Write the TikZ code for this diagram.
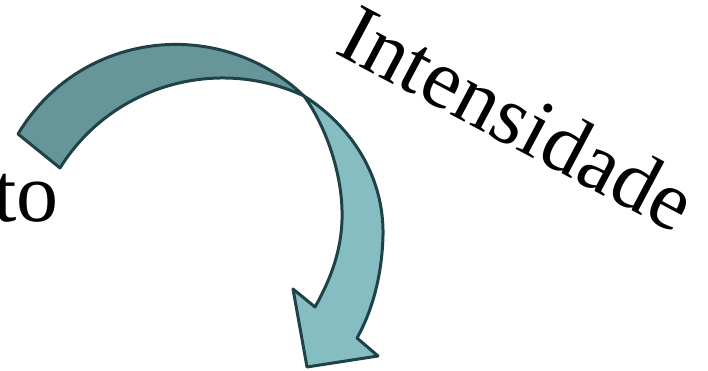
\documentclass[tikz,border=0pt]{standalone}
\usepackage{fontspec}
\setmainfont{Liberation Serif}
\usepackage{tikz}
\definecolor{petrol}{HTML}{1E4246}
\definecolor{petrold}{HTML}{67969A}
\definecolor{petroll}{HTML}{85BDC2}
\tikzset{
  band/.style={draw=petrol,line width=3pt,line join=round},
  wort/.style={inner sep=0pt,font=\fontsize{84}{90}\selectfont},
}

\begin{document}
\begin{tikzpicture}[x=1pt,y=-1pt]
  \useasboundingbox (0,0) rectangle (708,371);
  \coordinate (kreuz) at (304,96);
  % hinterer Teil des Bandes
  \draw[band,fill=petrold] (18,134) .. controls (79,32) and (218,14) .. (kreuz)
    .. controls (216,55) and (111,86) .. (60,168) -- cycle;
  % vorderer Teil mit Spitze
  \draw[band,fill=petroll] (kreuz) .. controls (350,125) and (384,175) .. (383,235)
    .. controls (382,280) and (370,315) .. (357,338)
    -- (378,356) -- (307,367) -- (293,289) -- (315,307)
    .. controls (333,275) and (343,245) .. (342,210)
    .. controls (341,170) and (325,125) .. (kreuz) -- cycle;
  \node[wort,anchor=base east] (to) at (59,222) {to};
  \node[wort,anchor=base west,rotate=-28] (intens) at (333,52) {Intensidade};
\end{tikzpicture}
\end{document}
